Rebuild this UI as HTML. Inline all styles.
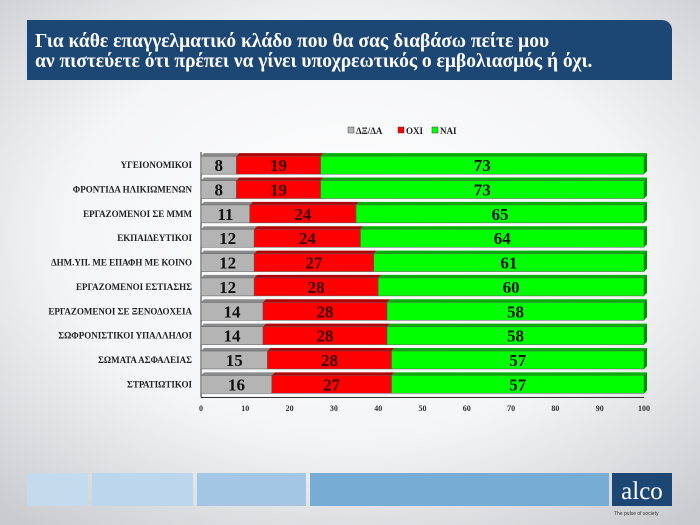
<!DOCTYPE html>
<html><head><meta charset="utf-8"><style>
body{margin:0;width:700px;height:525px;overflow:hidden;font-family:"Liberation Serif",serif;}
#bg{position:absolute;left:0;top:0;width:700px;height:525px;background:radial-gradient(ellipse 75% 70% at 50% 45%,#ffffff 0%,#f4f5f7 55%,#c9cbce 100%);}
#title{position:absolute;left:27px;top:20px;width:645px;height:60px;background:#1c4673;border-top-right-radius:10px;color:#fff;font-weight:bold;font-size:19.5px;line-height:20px;box-sizing:border-box;padding:12px 0 0 8px;}
</style></head><body>
<div id="bg"></div>
<div id="title">Για κάθε επαγγελματικό κλάδο που θα σας διαβάσω πείτε μου<br>αν πιστεύετε ότι πρέπει να γίνει υποχρεωτικός ο εμβολιασμός ή όχι.</div>
<svg id="chart" width="700" height="525" style="position:absolute;left:0;top:0"></svg>
<script>
const categories=["ΥΓΕΙΟΝΟΜΙΚΟΙ","ΦΡΟΝΤΙΔΑ ΗΛΙΚΙΩΜΕΝΩΝ","ΕΡΓΑΖΟΜΕΝΟΙ ΣΕ ΜΜΜ","ΕΚΠΑΙΔΕΥΤΙΚΟΙ","ΔΗΜ.ΥΠ. ΜΕ ΕΠΑΦΗ ΜΕ ΚΟΙΝΟ","ΕΡΓΑΖΟΜΕΝΟΙ ΕΣΤΙΑΣΗΣ","ΕΡΓΑΖΟΜΕΝΟΙ ΣΕ ΞΕΝΟΔΟΧΕΙΑ","ΣΩΦΡΟΝΙΣΤΙΚΟΙ ΥΠΑΛΛΗΛΟΙ","ΣΩΜΑΤΑ ΑΣΦΑΛΕΙΑΣ","ΣΤΡΑΤΙΩΤΙΚΟΙ"];
const dkValues=[8,8,11,12,12,12,14,14,15,16];
const noValues=[19,19,24,24,27,28,28,28,28,27];
const yesValues=[73,73,65,64,61,60,58,58,57,57];
const xTicks=[0,10,20,30,40,50,60,70,80,90,100];
const seriesNames=["ΔΞ/ΔΑ","ΟΧΙ","ΝΑΙ"];
const NS="http://www.w3.org/2000/svg";
const svg=document.getElementById('chart');
const x0=201,x1=644,yTop=152,pitch=24.35,bh=18,dep=3;
const xs=v=>x0+(x1-x0)*v/100;
const yc=i=>yTop+pitch*i+pitch/2;
function mk(t,a){const e=document.createElementNS(NS,t);for(const k in a)e.setAttribute(k,a[k]);svg.appendChild(e);return e;}
const fills=["#b4b4b4","#ff0000","#00ff00"],tops=["#8a8a8a","#b00000","#00b000"],sides=["#7a7a7a","#900000","#009000"];
let ax=mk('line',{x1:x0,y1:yTop,x2:x0,y2:yTop+pitch*10+2,stroke:'#333','stroke-width':1});

let bx=mk('line',{x1:x0,y1:yTop+pitch*10+2,x2:x1,y2:yTop+pitch*10+2,stroke:'#333','stroke-width':1});

const series=[dkValues,noValues,yesValues];
categories.forEach((c,i)=>{
 const y=yc(i)-bh/2+1;let acc=0;
 series.forEach((s,k)=>{
  const a=xs(acc),b=xs(acc+s[i]);
  const tp=mk('polygon',{points:`${a},${y} ${a+dep},${y-dep} ${b+dep},${y-dep} ${b},${y}`,fill:tops[k]});
  
  const r=mk('rect',{x:a,y:y,width:b-a,height:bh,fill:fills[k],stroke:'#555','stroke-width':0.5});
  
  const t=mk('text',{x:(a+b)/2,y:y+bh/2+6,'text-anchor':'middle','font-size':17,'font-weight':'bold',fill:k==1?'#3a0000':'#111','font-family':'Liberation Serif,serif'});
  t.textContent=s[i];
  acc+=s[i];
  if(k==2){const sd=mk('polygon',{points:`${b},${y} ${b+dep},${y-dep} ${b+dep},${y+bh-dep} ${b},${y+bh}`,fill:sides[k]});
   }
 });
 const l=mk('text',{x:192,y:yc(i)+4,'text-anchor':'end','font-size':9,'font-weight':'bold',fill:'#222','font-family':'Liberation Serif,serif'});
 l.textContent=c;
});
xTicks.forEach(v=>{
 const t=mk('text',{x:xs(v),y:411,'text-anchor':'middle','font-size':8,'font-weight':'bold',fill:'#333','font-family':'Liberation Serif,serif'});
 t.textContent=v;
});
let lx=348;
seriesNames.forEach((n,k)=>{
 const r=mk('rect',{x:lx,y:127,width:6,height:6,fill:fills[k],stroke:'#444','stroke-width':0.5});
 
 const t=mk('text',{x:lx+8,y:134,'font-size':9,'font-weight':'bold',fill:'#222','font-family':'Liberation Serif,serif'});
 t.textContent=n;
 lx+=[50,34,0][k];
});
[[27,61,'#c4dbee'],[92,101,'#bcd6ed'],[197,109,'#a3c6e5'],[310,299,'#77acd5']].forEach((b,i)=>{
 const r=mk('rect',{x:b[0],y:473,width:b[1],height:33,fill:b[2]});
 
});
const lg=mk('rect',{x:612,y:473,width:60,height:33,fill:'#1c4673'});

const lt=mk('text',{x:642,y:499,'text-anchor':'middle','font-size':25,fill:'#fff','font-family':'Liberation Serif,serif'});
lt.textContent='alco';
const tg=mk('text',{x:614,y:515,'font-size':5,fill:'#333','font-family':'Liberation Sans,sans-serif'});
tg.textContent='The pulse of society';
</script>
</body></html>
